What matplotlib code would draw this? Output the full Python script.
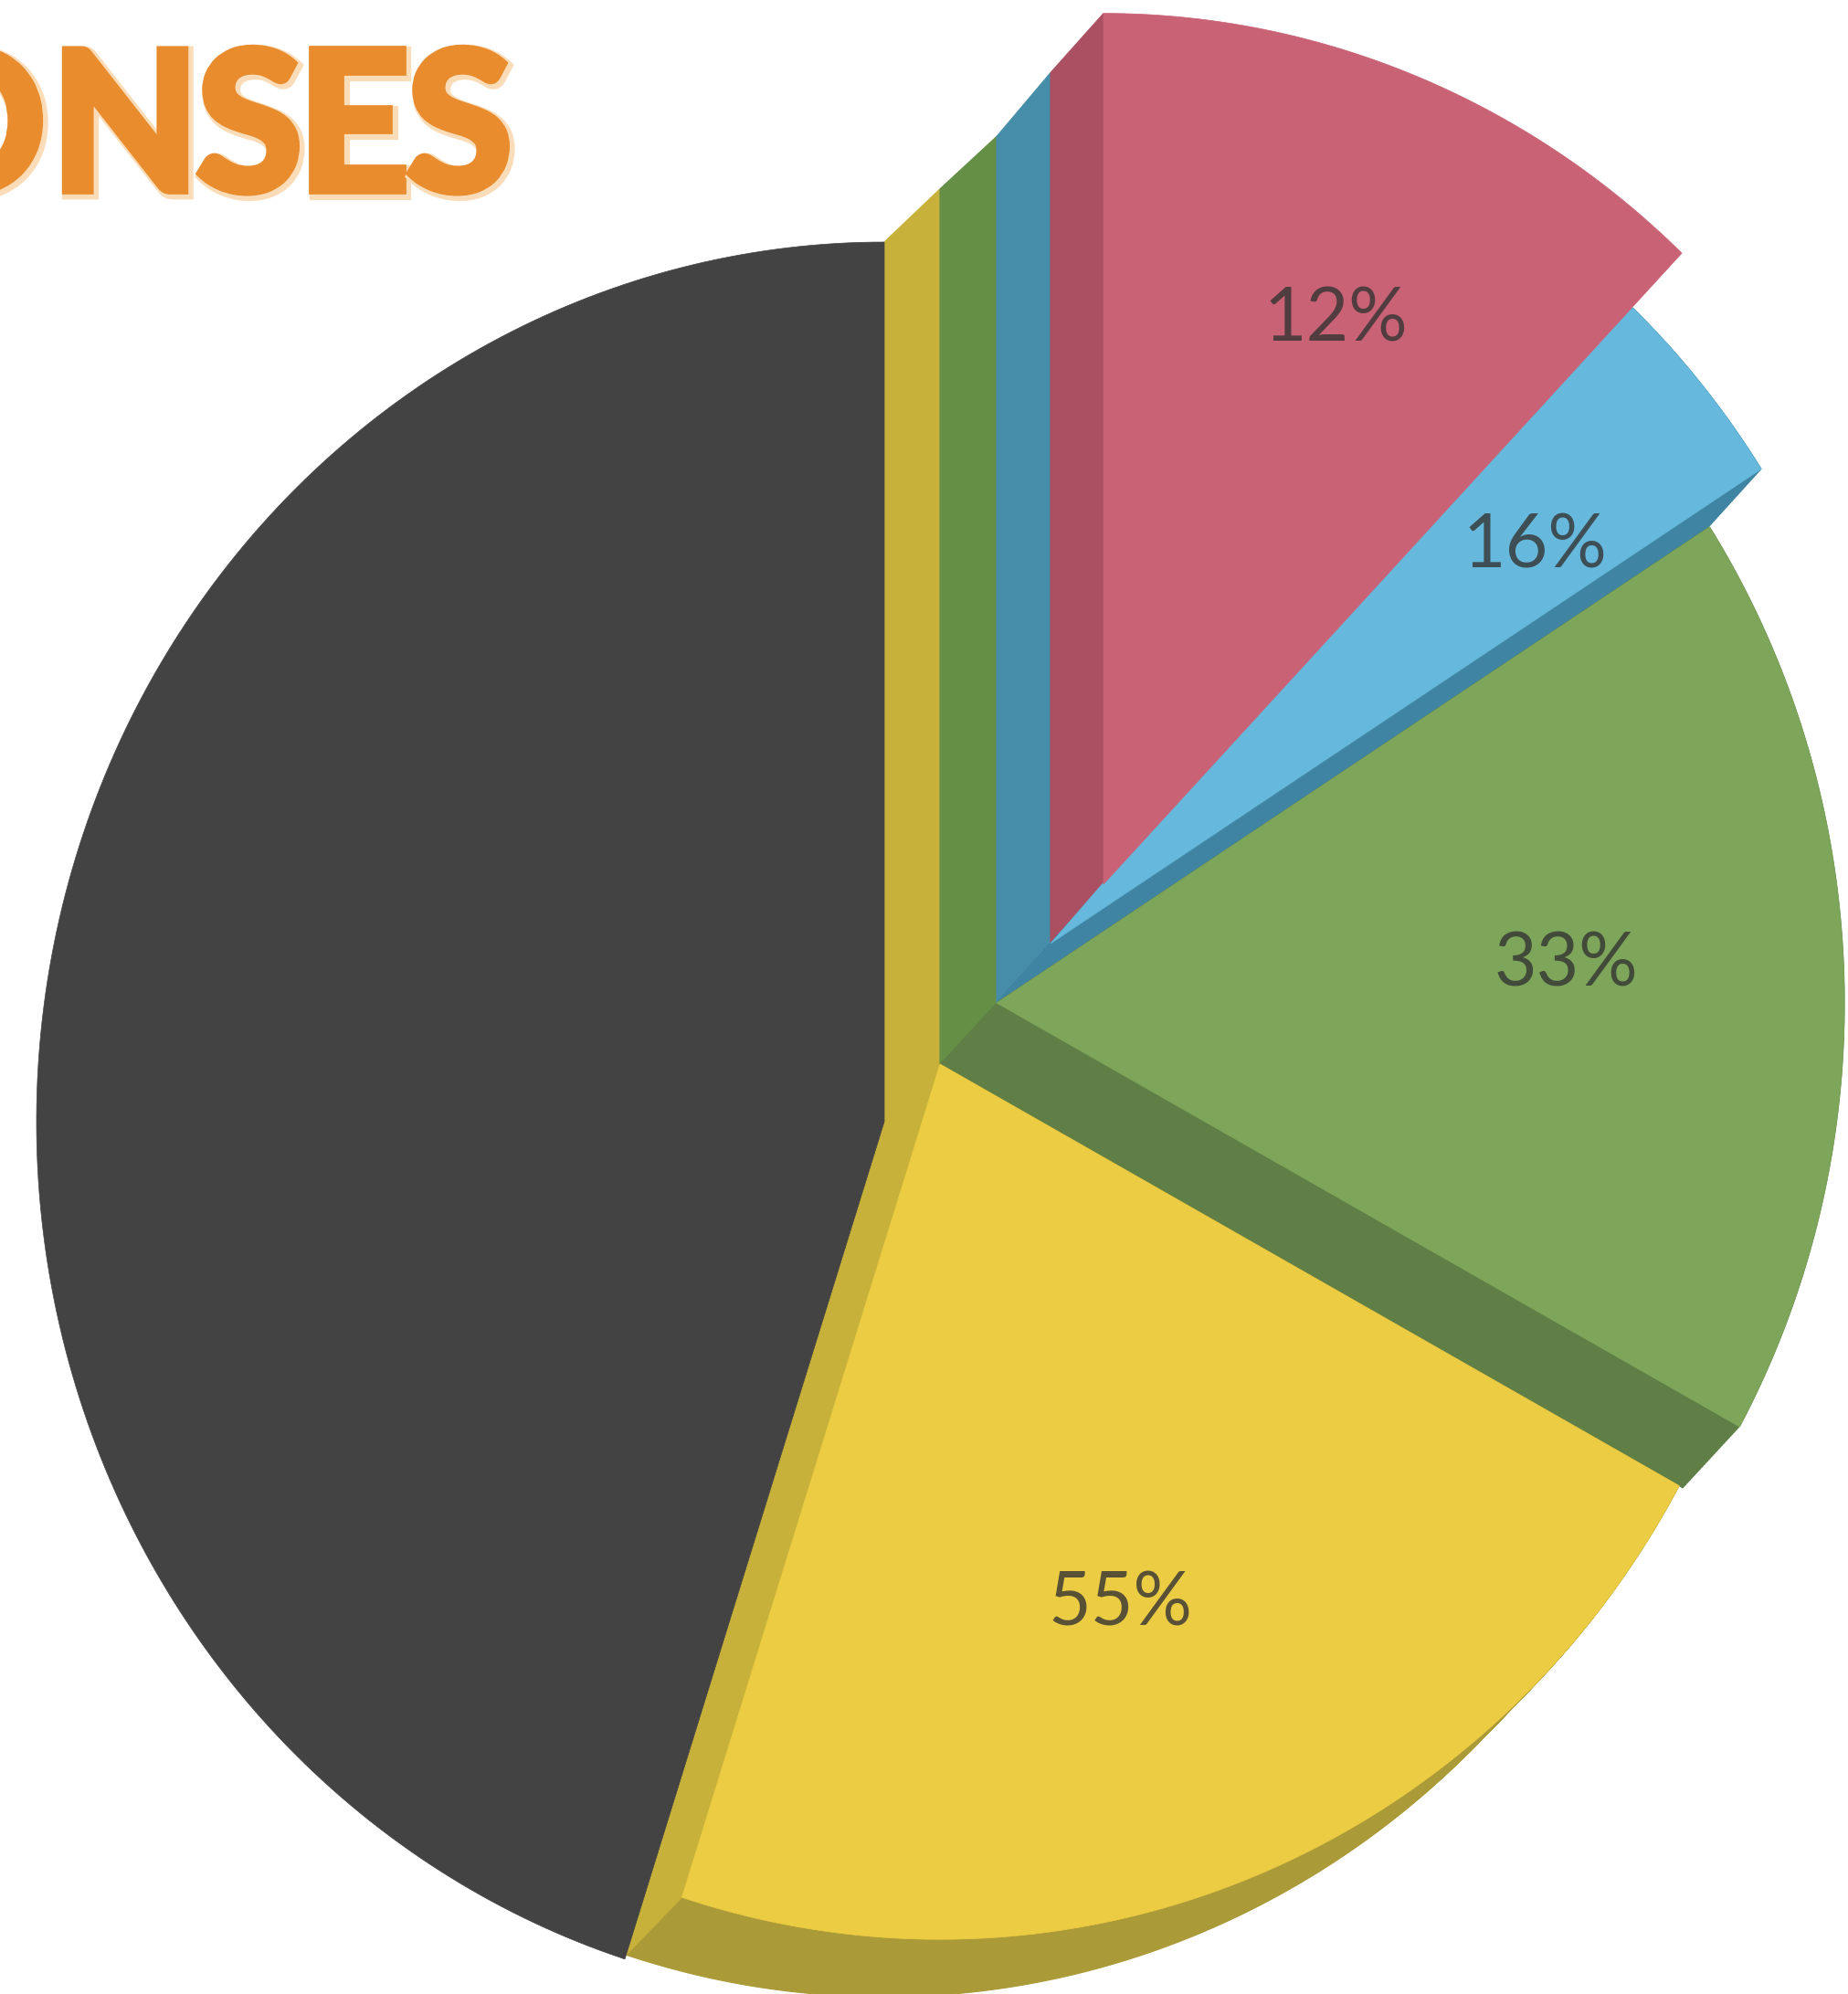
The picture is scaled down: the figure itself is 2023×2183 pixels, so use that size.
import numpy as np
from matplotlib import pyplot as plt
import matplotlib.patheffects as pe

# slice shares (the printed labels do not match the angles)
names = ['dark', 'yellow', 'green', 'blue', 'red']
shares = [45.05, 21.95, 17.1, 3.8, 12.1]
labels = ['', '55%', '33%', '16%', '12%']
title_letters = ['O', 'N', 'S', 'E', 'S']

top_colors = ['#434343', '#ebcc42', '#7ea65a', '#66b9dc', '#c96275']
strip_colors = [None, '#c8b13a', '#658f45', '#458da8', '#ab5062']
rim_colors = [None, '#ab9a38', '#5f7f46', '#3f84a3', None]

W, H = 2023, 2183
RX, RY = 928, 963

# apex of each slice, image pixels (y down)
apex = [(968, 1228), (1029, 1165), (1091, 1098), (1150, 1033), (1208, 968)]
scale = [1.0, 0.995, 1.0, 0.997, 0.99]
strip_scale = [1.0, 1.0, 0.985, 0.993, 1.0]
label_pos = [None, (1226, 1757), (1714, 1057), (1680, 599), (1462, 350)]
title_x = [-35, 137, 273, 387, 503]


def wedge(i, t0, t1, dx=0, dy=0):
    t = np.radians(np.linspace(t0, t1, 200))
    cx, cy = apex[i]
    x = cx + dx + RX * scale[i] * np.cos(t)
    y = H - (cy + dy) + RY * scale[i] * np.sin(t)
    return np.r_[cx + dx, x], np.r_[H - cy - dy, y]


def side(i, t, color, z=2):
    # flat wall from the slice edge at angle t back to the previous apex
    cx, cy = apex[i]
    px, py = apex[i - 1]
    a = np.radians(t)
    ex, ey = RX * scale[i] * np.cos(a), RY * scale[i] * np.sin(a)
    ax.fill([cx, cx + ex, px + ex, px], [H - cy, H - cy + ey, H - py + ey, H - py],
            color=color, lw=0.8, zorder=z)


def top_strip(i, color):
    # vertical wall above the apex, its top edge runs on from the previous strip
    cx, cy = apex[i]
    px, py = apex[i - 1]
    top = H - cy + RY * scale[i] * strip_scale[i]
    prev_top = H - py + RY * scale[i - 1] * strip_scale[i - 1]
    ax.fill([px, cx, cx, px], [prev_top, top, H - cy, H - py], color=color, lw=0.8, zorder=2)


fig = plt.figure(figsize=(W / 100, H / 100), dpi=100, facecolor='white')
ax = fig.add_axes([0, 0, 1, 1])
ax.set_xlim(0, W)
ax.set_ylim(0, H)
ax.axis('off')

edges = 90 + np.r_[0, np.cumsum(shares)] * 360 / sum(shares)

for i in range(1, 5):
    top_strip(i, strip_colors[i])

# swept depth of each slice, then its top face
for i in [3, 4, 2, 1, 0]:
    t0, t1 = edges[i], edges[i + 1]
    if rim_colors[i]:
        px, py = apex[i - 1]
        cx, cy = apex[i]
        for f in np.linspace(0, 1, 40):
            xs, ys = wedge(i, t0, t1, (px - cx) * f, (py - cy) * f)
            ax.fill(xs, ys, color=rim_colors[i], lw=0.8, zorder=3 + 4 - i)
    if i == 1:
        side(i, t0, strip_colors[i], z=6.5)
    # blue runs a little under red so no white gap opens between them
    xs, ys = wedge(i, t0, t1 + (1.5 if i == 3 else 0))
    order = {3: 7.2, 4: 7.4, 2: 7.6, 1: 7.8, 0: 8}[i]
    ax.fill(xs, ys, color=top_colors[i], lw=0.5, zorder=order)

for lab, pos in zip(labels, label_pos):
    if pos:
        ax.text(pos[0], H - pos[1], lab, ha='center', va='center', fontsize=58,
                family='Lato', color='#333333', alpha=0.8, zorder=10)

# letters placed one by one: the original lettering is tighter and heavier than Lato Bold
for letter, x in zip(title_letters, title_x):
    t = ax.text(x, H - 208, letter, ha='center', va='baseline', fontsize=152,
                family='Lato', weight='bold', color='#e88c2d', zorder=10)
    t.set_path_effects([
        pe.Stroke(linewidth=11, foreground='#fbdcb8', offset=(2, -2), joinstyle='miter'),
        pe.Stroke(linewidth=7, foreground='#e88c2d', joinstyle='miter'),
        pe.Normal(),
    ])

plt.savefig('out.png', dpi=100, facecolor='white')
